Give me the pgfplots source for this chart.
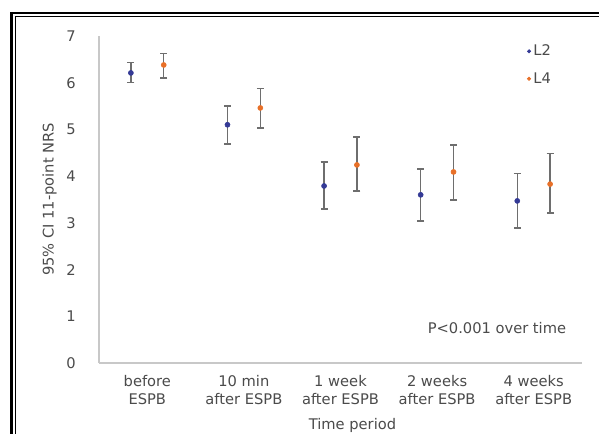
\documentclass[border=0pt]{standalone}
\usepackage{fontspec}
\setmainfont{DejaVu Sans}
\usepackage{pgfplots}
\pgfplotsset{compat=1.18}
\definecolor{ltwo}{RGB}{52,58,150}
\definecolor{lfour}{RGB}{232,112,40}
\definecolor{errc}{RGB}{110,110,110}
\definecolor{txtc}{RGB}{75,75,75}
\definecolor{axc}{RGB}{200,200,200}

\begin{document}
\begin{tikzpicture}
% page = 599x433 px at 0.75pt per px
\useasboundingbox (0,0) rectangle (449.25pt,324.75pt);
\fill[white] (0,0) rectangle (449.25pt,324.75pt);
\begin{scope}
  \clip (0,0) rectangle (449.25pt,324.75pt);
  \draw[line width=2.2pt] (8.6pt,-10pt) -- (8.6pt,315pt) -- (470pt,315pt);
  \draw[line width=0.7pt] (11.3pt,-10pt) -- (11.3pt,312.3pt) -- (470pt,312.3pt);
\end{scope}
\begin{axis}[
    at={(74.25pt,52.5pt)}, anchor=south west,
    scale only axis, width=362.25pt, height=245.25pt,
    xmin=-0.5, xmax=4.5, ymin=0, ymax=7,
    axis x line=bottom, axis y line=left,
    axis line style={-, axc, line width=0.8pt},
    major tick length=0pt,
    xtick={0,1,2,3,4},
    xticklabels={before\\ESPB, 10 min\\after ESPB, 1 week\\after ESPB,
      2 weeks\\after ESPB, 4 weeks\\after ESPB},
    ytick={0,1,2,3,4,5,6,7},
    font=\fontsize{11}{13}\selectfont,
    tick label style={text=txtc},
    /pgf/number format/assume math mode=true,
    xticklabel style={align=center, yshift=-6pt, font=\fontsize{11}{13.5}\selectfont},
    yticklabel style={xshift=-14pt},
    ylabel={95\% CI 11-point NRS},
    every axis y label/.style={at={(rel axis cs:0,0.5)}, xshift=-37pt,
      rotate=90, anchor=center, text=txtc},
    xlabel={Time period},
    every axis x label/.style={at={(rel axis cs:0.5,0)}, xshift=9pt,
      yshift=-47pt, anchor=center, text=txtc},
    legend style={draw=none, fill=none, at={(rel axis cs:0.878,0.99)},
      anchor=north west, row sep=7pt, text=txtc,
      font=\fontsize{11}{13}\selectfont},
    legend cell align=left,
    legend image code/.code={\draw[#1, mark size=1.3pt] plot coordinates {(0.05cm,0cm)};},
    error bars/error bar style={errc, line width=1pt},
    error bars/error mark options={errc, line width=1pt, mark size=2.6pt, rotate=90},
  ]
  \addplot[only marks, mark=*, mark size=1.9pt, ltwo,
    error bars/.cd, y dir=both, y explicit]
    coordinates {
      (-0.17,6.21) += (0,0.22) -= (0,0.21)
      (0.83,5.10) += (0,0.40) -= (0,0.41)
      (1.83,3.79) += (0,0.51) -= (0,0.49)
      (2.83,3.60) += (0,0.55) -= (0,0.56)
      (3.83,3.47) += (0,0.58) -= (0,0.58)
    };
  \addlegendentry{L2}
  \addplot[only marks, mark=*, mark size=1.9pt, lfour,
    error bars/.cd, y dir=both, y explicit]
    coordinates {
      (0.17,6.38) += (0,0.24) -= (0,0.28)
      (1.17,5.46) += (0,0.41) -= (0,0.43)
      (2.17,4.24) += (0,0.60) -= (0,0.56)
      (3.17,4.09) += (0,0.58) -= (0,0.60)
      (4.17,3.83) += (0,0.65) -= (0,0.62)
    };
  \addlegendentry{L4}
  \node[text=txtc, anchor=center] at (axis cs:3.62,0.75) {P<0.001 over time};
\end{axis}
\end{tikzpicture}
\end{document}
